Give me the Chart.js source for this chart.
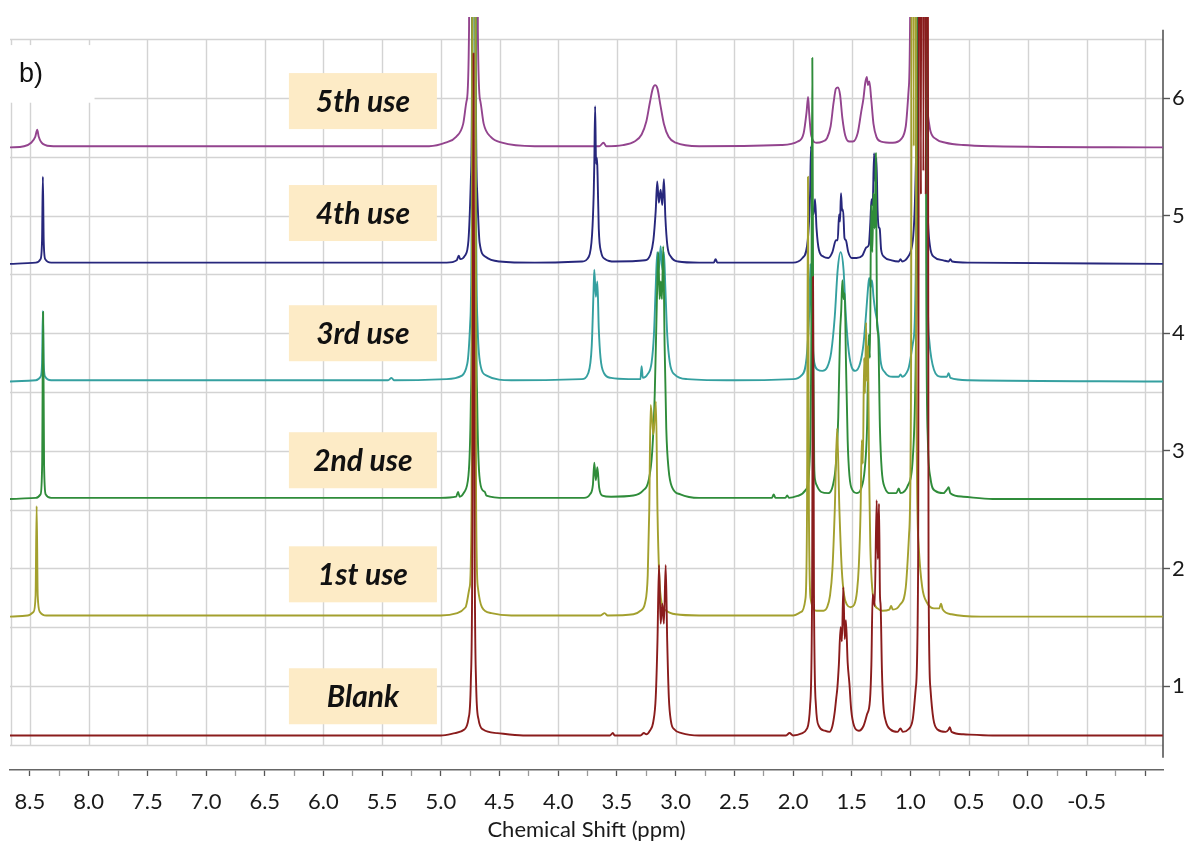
<!DOCTYPE html>
<html lang="en">
<head>
    <meta charset="UTF-8">
    <title>1H NMR - catalyst reuse</title>
    <script src="https://cdn.jsdelivr.net/npm/chart.js"></script>
    <style>
        body { margin: 0; background: #ffffff; }
        canvas { display: block; }
    </style>
</head>
<body>
<canvas id="nmr" width="1187" height="847"></canvas>
<script>
// Stacked 1H NMR spectra, one trace per reuse cycle.
// Each trace: [ppm, intensity above its own baseline]. Peaks taller than the frame are clipped.
const blankPts = [
    [8.67, 0], [5.00, 0], [4.88, 0.02], [4.80, 0.05], [4.765, 0.14], [4.745, 0.45], [4.732, 1.6], [4.722, 5.8], [4.712, 1.6], [4.70, 0.45], [4.68, 0.14], [4.64, 0.05], [4.52, 0.02], [4.30, 0],
    [3.56, 0], [3.535, 0.02], [3.52, 0], [3.30, 0], [3.27, 0.02], [3.25, 0.01],
    [3.22, 0.04], [3.19, 0.12], [3.17, 0.32], [3.155, 0.8], [3.142, 1.45], [3.128, 0.95], [3.114, 1.12], [3.10, 0.95], [3.085, 1.45], [3.072, 0.8], [3.058, 0.32], [3.04, 0.12], [3.01, 0.05], [2.95, 0.02], [2.80, 0],
    [2.06, 0], [2.03, 0.02], [2.00, 0],
    [1.92, 0.02], [1.88, 0.06], [1.855, 0.25], [1.838, 1.2], [1.83, 3.9], [1.822, 1.2], [1.805, 0.25], [1.78, 0.08], [1.73, 0.04], [1.69, 0.03],
    [1.665, 0.08], [1.645, 0.2], [1.632, 0.32], [1.623, 0.4], [1.61, 0.6], [1.595, 0.92], [1.584, 0.8], [1.572, 1.26], [1.56, 0.82], [1.55, 0.98], [1.535, 0.62], [1.52, 0.44], [1.505, 0.22], [1.48, 0.08], [1.44, 0.04],
    [1.40, 0.08], [1.37, 0.18], [1.345, 0.3], [1.333, 0.6], [1.322, 1.2], [1.305, 1.1], [1.288, 2.0], [1.278, 1.5], [1.268, 1.97], [1.26, 1.2], [1.254, 1.1], [1.243, 0.55], [1.232, 0.27], [1.21, 0.12], [1.17, 0.05],
    [1.11, 0.03], [1.085, 0.06], [1.065, 0.03], [1.02, 0.05], [0.98, 0.14], [0.955, 0.4], [0.935, 1.4], [0.922, 12], [0.911, 4.6], [0.90, 12], [0.89, 4.8], [0.88, 12], [0.87, 4.6], [0.858, 12], [0.846, 1.4], [0.83, 0.4], [0.805, 0.14], [0.77, 0.05],
    [0.70, 0.03], [0.675, 0.05], [0.665, 0.07], [0.65, 0.03], [0.55, 0.01], [0.30, 0], [-1.15, 0]
];

const use1Pts = [
    [8.67, 0], [8.52, 0.01], [8.47, 0.04], [8.452, 0.18], [8.443, 0.94], [8.434, 0.18], [8.415, 0.04], [8.36, 0.01], [5.00, 0.01],
    [4.86, 0.03], [4.79, 0.08], [4.755, 0.25], [4.738, 1.0], [4.725, 12], [4.712, 12], [4.70, 1.0], [4.685, 0.25], [4.65, 0.08], [4.57, 0.03], [4.40, 0.01],
    [3.64, 0.01], [3.605, 0.03], [3.58, 0.01],
    [3.36, 0.02], [3.30, 0.05], [3.26, 0.12], [3.238, 0.35], [3.225, 0.9], [3.213, 1.8], [3.19, 1.55], [3.168, 1.83], [3.155, 0.9], [3.14, 0.35], [3.12, 0.12], [3.08, 0.05], [3.00, 0.02], [2.80, 0.01],
    [2.00, 0.01], [1.93, 0.04], [1.895, 0.15], [1.881, 0.9], [1.873, 3.74], [1.865, 0.9], [1.85, 0.15], [1.80, 0.05], [1.74, 0.05],
    [1.71, 0.08], [1.685, 0.18], [1.665, 0.4], [1.645, 0.9], [1.625, 1.6], [1.605, 0.9], [1.585, 0.4], [1.565, 0.18], [1.54, 0.1], [1.51, 0.08],
    [1.48, 0.1], [1.455, 0.22], [1.44, 0.43], [1.425, 0.9], [1.415, 1.5], [1.405, 1.3], [1.395, 2.2], [1.387, 1.9], [1.378, 2.5], [1.37, 2.0], [1.362, 2.3], [1.352, 1.2], [1.342, 0.6], [1.33, 0.3], [1.31, 0.12], [1.28, 0.07], [1.24, 0.05],
    [1.18, 0.06], [1.165, 0.09], [1.15, 0.06], [1.09, 0.1], [1.04, 0.25], [1.012, 0.7], [0.995, 2], [0.985, 12], [0.972, 4], [0.962, 12], [0.95, 2], [0.93, 0.6], [0.90, 0.25], [0.86, 0.12], [0.80, 0.07],
    [0.755, 0.07], [0.74, 0.11], [0.725, 0.06], [0.65, 0.02], [0.40, 0], [-1.15, 0]
];

const use2Pts = [
    [8.67, 0], [8.45, 0.01], [8.41, 0.04], [8.396, 0.3], [8.388, 1.59], [8.38, 0.3], [8.366, 0.04], [8.32, 0.01], [5.00, 0.01],
    [4.87, 0.02], [4.853, 0.06], [4.84, 0.02], [4.80, 0.06], [4.765, 0.2], [4.745, 0.8], [4.732, 3], [4.724, 12], [4.712, 12], [4.704, 3], [4.69, 0.8], [4.672, 0.2], [4.64, 0.07], [4.625, 0.06], [4.612, 0.03], [4.45, 0.01],
    [3.78, 0.01], [3.73, 0.04], [3.705, 0.12], [3.693, 0.31], [3.68, 0.16], [3.667, 0.27], [3.652, 0.1], [3.625, 0.03], [3.55, 0.02],
    [3.36, 0.03], [3.28, 0.07], [3.23, 0.16], [3.20, 0.4], [3.178, 0.9], [3.162, 1.6], [3.148, 2.1], [3.137, 1.7], [3.127, 1.85], [3.117, 1.7], [3.106, 2.15], [3.094, 1.3], [3.08, 0.6], [3.06, 0.25], [3.03, 0.1], [2.96, 0.04], [2.80, 0.01],
    [2.18, 0.01], [2.165, 0.04], [2.15, 0.01], [2.065, 0.01], [2.05, 0.03], [2.035, 0.01],
    [1.95, 0.03], [1.89, 0.08], [1.86, 0.3], [1.845, 1.3], [1.836, 3.75], [1.828, 1.3], [1.82, 0.3], [1.812, 0.16], [1.80, 0.12], [1.76, 0.06], [1.70, 0.05],
    [1.66, 0.12], [1.635, 0.3], [1.615, 0.7], [1.60, 1.4], [1.59, 1.6], [1.58, 1.86], [1.57, 1.7], [1.56, 1.75], [1.55, 1.2], [1.535, 0.5], [1.52, 0.2], [1.49, 0.07], [1.46, 0.05],
    [1.42, 0.09], [1.39, 0.25], [1.37, 0.6], [1.355, 1.4], [1.345, 1.2], [1.335, 2.5], [1.325, 2.1], [1.315, 2.6], [1.305, 2.3], [1.295, 2.94], [1.285, 1.5], [1.275, 1.4], [1.26, 0.6], [1.245, 0.25], [1.22, 0.1], [1.17, 0.05],
    [1.12, 0.05], [1.10, 0.09], [1.085, 0.05], [1.02, 0.12], [0.98, 0.35], [0.955, 1.2], [0.935, 4], [0.925, 12], [0.912, 4.5], [0.902, 12], [0.89, 4.5], [0.878, 12], [0.866, 2], [0.852, 0.5], [0.83, 0.18], [0.79, 0.07], [0.72, 0.05],
    [0.69, 0.08], [0.675, 0.1], [0.66, 0.05], [0.55, 0.02], [0.30, 0], [-1.15, 0]
];

const use3Pts = [
    [8.67, 0], [8.45, 0.01], [8.41, 0.04], [8.397, 0.15], [8.39, 0.6], [8.383, 0.15], [8.37, 0.04], [8.32, 0.01],
    [5.45, 0.01], [5.42, 0.03], [5.40, 0.01], [4.95, 0.02], [4.82, 0.05], [4.775, 0.15], [4.75, 0.5], [4.735, 2], [4.725, 12], [4.712, 12], [4.702, 2], [4.688, 0.5], [4.665, 0.15], [4.61, 0.05], [4.40, 0.01],
    [3.80, 0.02], [3.745, 0.07], [3.715, 0.3], [3.70, 0.75], [3.693, 0.95], [3.68, 0.72], [3.667, 0.85], [3.655, 0.45], [3.64, 0.2], [3.61, 0.07], [3.55, 0.03], [3.40, 0.02],
    [3.30, 0.02], [3.29, 0.13], [3.28, 0.03],
    [3.24, 0.06], [3.205, 0.16], [3.185, 0.4], [3.17, 0.8], [3.157, 1.1], [3.143, 0.95], [3.128, 1.15], [3.114, 0.95], [3.10, 1.1], [3.088, 0.8], [3.072, 0.4], [3.05, 0.16], [3.01, 0.06], [2.90, 0.02], [2.50, 0.01],
    [2.00, 0.02], [1.93, 0.05], [1.885, 0.2], [1.862, 0.6], [1.852, 1.0], [1.843, 0.6], [1.825, 0.2], [1.79, 0.1], [1.75, 0.09],
    [1.71, 0.12], [1.675, 0.25], [1.645, 0.55], [1.62, 0.95], [1.595, 1.1], [1.57, 0.95], [1.55, 0.55], [1.525, 0.25], [1.50, 0.12], [1.47, 0.09],
    [1.43, 0.15], [1.40, 0.32], [1.38, 0.55], [1.365, 0.75], [1.352, 0.88], [1.34, 0.8], [1.328, 0.86], [1.315, 0.72], [1.30, 0.6], [1.285, 0.52], [1.27, 0.38], [1.255, 0.18], [1.22, 0.08], [1.15, 0.04],
    [1.10, 0.04], [1.085, 0.06], [1.07, 0.04], [1.02, 0.1], [0.975, 0.35], [0.95, 1.4], [0.935, 12], [0.92, 5], [0.905, 12], [0.89, 5], [0.875, 12], [0.86, 1.4], [0.84, 0.35], [0.80, 0.1], [0.74, 0.04],
    [0.69, 0.04], [0.675, 0.07], [0.66, 0.03], [0.50, 0.01], [-1.15, 0]
];

const use4Pts = [
    [8.67, 0], [8.45, 0.01], [8.41, 0.04], [8.397, 0.2], [8.39, 0.74], [8.383, 0.2], [8.37, 0.04], [8.32, 0.01], [4.95, 0.01],
    [4.865, 0.03], [4.848, 0.07], [4.835, 0.04], [4.795, 0.07], [4.765, 0.2], [4.745, 0.7], [4.733, 2], [4.724, 12], [4.712, 12], [4.704, 2], [4.69, 0.6], [4.67, 0.18], [4.62, 0.06], [4.50, 0.02], [4.20, 0.01],
    [3.80, 0.02], [3.74, 0.06], [3.712, 0.25], [3.698, 0.6], [3.693, 0.85], [3.686, 1.34], [3.678, 0.85], [3.67, 0.9], [3.665, 0.75], [3.655, 0.3], [3.635, 0.1], [3.60, 0.04], [3.52, 0.02],
    [3.26, 0.03], [3.215, 0.08], [3.19, 0.2], [3.17, 0.45], [3.157, 0.7], [3.143, 0.52], [3.128, 0.63], [3.114, 0.5], [3.10, 0.72], [3.088, 0.4], [3.07, 0.15], [3.04, 0.06], [2.98, 0.02], [2.80, 0.01],
    [2.675, 0.01], [2.66, 0.04], [2.645, 0.01],
    [2.00, 0.01], [1.92, 0.05], [1.875, 0.2], [1.855, 0.6], [1.847, 1.0], [1.838, 0.5], [1.825, 0.42], [1.813, 0.55], [1.80, 0.3], [1.78, 0.12], [1.74, 0.06],
    [1.70, 0.05], [1.665, 0.1], [1.635, 0.2], [1.62, 0.2], [1.608, 0.42], [1.60, 0.36], [1.592, 0.6], [1.582, 0.45], [1.574, 0.46], [1.562, 0.22], [1.55, 0.2], [1.53, 0.1], [1.50, 0.05], [1.46, 0.05],
    [1.41, 0.07], [1.375, 0.14], [1.355, 0.16], [1.342, 0.35], [1.332, 0.55], [1.322, 0.5], [1.31, 0.94], [1.30, 0.7], [1.29, 0.9], [1.28, 0.45], [1.27, 0.31], [1.262, 0.3], [1.25, 0.12], [1.225, 0.06], [1.16, 0.03],
    [1.10, 0.02], [1.085, 0.04], [1.07, 0.02], [1.02, 0.06], [0.98, 0.2], [0.955, 0.8], [0.94, 3], [0.932, 12], [0.918, 5], [0.905, 12], [0.89, 5], [0.878, 12], [0.868, 2], [0.855, 0.5], [0.835, 0.16], [0.80, 0.06], [0.72, 0.03],
    [0.675, 0.02], [0.66, 0.04], [0.645, 0.02], [0.50, 0.01], [-1.15, 0]
];

const use5Pts = [
    [8.67, 0], [8.55, 0.01], [8.49, 0.04], [8.455, 0.09], [8.438, 0.15], [8.425, 0.09], [8.39, 0.03], [8.30, 0.01], [5.10, 0.01],
    [4.96, 0.04], [4.87, 0.09], [4.81, 0.2], [4.78, 0.4], [4.76, 1.0], [4.745, 12], [4.70, 12], [4.685, 1.0], [4.665, 0.4], [4.635, 0.2], [4.575, 0.09], [4.48, 0.04], [4.20, 0.01],
    [3.65, 0.01], [3.615, 0.04], [3.59, 0.01],
    [3.45, 0.02], [3.35, 0.05], [3.29, 0.11], [3.25, 0.22], [3.22, 0.38], [3.195, 0.5], [3.175, 0.53], [3.155, 0.5], [3.13, 0.36], [3.10, 0.2], [3.06, 0.09], [3.00, 0.04], [2.80, 0.01],
    [2.10, 0.02], [1.96, 0.05], [1.91, 0.12], [1.885, 0.3], [1.872, 0.43], [1.862, 0.28], [1.845, 0.1], [1.80, 0.04], [1.75, 0.05],
    [1.71, 0.08], [1.68, 0.18], [1.655, 0.38], [1.635, 0.5], [1.618, 0.51], [1.60, 0.45], [1.58, 0.25], [1.555, 0.1], [1.52, 0.05], [1.49, 0.05],
    [1.45, 0.12], [1.42, 0.3], [1.40, 0.42], [1.385, 0.55], [1.372, 0.6], [1.362, 0.53], [1.35, 0.56], [1.335, 0.42], [1.315, 0.2], [1.29, 0.09], [1.25, 0.05], [1.15, 0.04],
    [1.08, 0.07], [1.04, 0.18], [1.015, 0.5], [1.00, 1.6], [0.99, 12], [0.88, 12], [0.87, 1.0], [0.855, 0.3], [0.83, 0.14], [0.78, 0.07], [0.70, 0.04], [0.55, 0.02], [0.30, 0.01], [-1.15, 0]
];

// vertical offset of each trace (right-hand scale units)
const traceNames   = ['Blank', '1st use', '2nd use', '3rd use', '4th use', '5th use'];
const traceOffsets = [0.58, 1.59, 2.59, 3.59, 4.59, 5.58];
const traceColors  = ['#8a1c1c', '#a3a02e', '#2f8c3a', '#35a0a0', '#27277c', '#93448e'];
const tracePoints  = [blankPts, use1Pts, use2Pts, use3Pts, use4Pts, use5Pts];

// label boxes: [ppm, right-scale value] of the box centre
const labelAnchors = [[5.664, 0.913], [5.664, 1.95], [5.664, 2.92], [5.664, 4.0], [5.664, 5.022], [5.664, 5.974]];

// background grid
const gridPpm   = [8.5, 8.0, 7.5, 7.0, 6.5, 6.0, 5.5, 5.0, 4.5, 4.0, 3.5, 3.0, 2.5, 2.0, 1.5, 1.0, 0.5, 0.0, -0.5, -1.0];
const gridUnits = [0.5, 1.0, 1.5, 2.0, 2.5, 3.0, 3.5, 4.0, 4.5, 5.0, 5.5, 6.0, 6.5];

const isHalf = v => Math.abs(v * 2 - Math.round(v * 2)) < 1e-6;

const datasets = tracePoints.map((pts, i) => ({
    label: traceNames[i],
    data: pts.map(([x, y]) => ({ x: x, y: y + traceOffsets[i] })),
    borderColor: traceColors[i],
    borderWidth: 1.9,
    borderJoinStyle: 'round',
    pointRadius: 0,
    fill: false,
    cubicInterpolationMode: 'monotone'
}));

const spectrumFrame = {
    id: 'spectrumFrame',
    beforeDatasetsDraw(chart) {
        const { ctx, chartArea, scales: { x, y } } = chart;
        const top = y.getPixelForValue(6.5);
        const bottom = y.getPixelForValue(0.5);
        ctx.save();
        ctx.strokeStyle = '#d3d3d3';
        ctx.lineWidth = 1.4;
        ctx.beginPath();
        gridPpm.forEach(v => {
            const px = Math.round(x.getPixelForValue(v)) + 0.5;
            ctx.moveTo(px, top); ctx.lineTo(px, bottom);
        });
        ctx.moveTo(chartArea.left + 1.5, top); ctx.lineTo(chartArea.left + 1.5, bottom);
        gridUnits.forEach(v => {
            const py = Math.round(y.getPixelForValue(v)) + 0.5;
            ctx.moveTo(chartArea.left, py); ctx.lineTo(chartArea.right, py);
        });
        ctx.stroke();

        // right-hand axis line
        ctx.strokeStyle = '#555';
        ctx.lineWidth = 1.6;
        ctx.beginPath();
        ctx.moveTo(chartArea.right, y.getPixelForValue(6.58));
        ctx.lineTo(chartArea.right, y.getPixelForValue(0.39));
        ctx.stroke();

        // panel tag on a white patch
        const tagL = chartArea.left - 5, tagR = x.getPixelForValue(7.95);
        const tagT = y.getPixelForValue(6.45), tagB = y.getPixelForValue(5.96);
        ctx.fillStyle = '#ffffff';
        ctx.fillRect(tagL, tagT, tagR - tagL, tagB - tagT);
        ctx.fillStyle = '#111';
        ctx.font = '27px "Liberation Sans", Arial, sans-serif';
        ctx.textBaseline = 'alphabetic';
        ctx.fillText('b)', 19, 82);
        ctx.restore();
    },
    afterDatasetsDraw(chart) {
        const { ctx, scales: { x, y } } = chart;
        ctx.save();
        ctx.font = 'italic bold 30px Lato, "Open Sans", sans-serif';
        ctx.textAlign = 'center';
        ctx.textBaseline = 'middle';
        labelAnchors.forEach(([ppm, v], i) => {
            const cx = x.getPixelForValue(ppm), cy = y.getPixelForValue(v);
            ctx.fillStyle = '#fdebc6';
            ctx.fillRect(cx - 74, cy - 28, 148, 56);
            ctx.fillStyle = '#111';
            ctx.fillText(traceNames[i], cx, cy + 1);
        });
        ctx.restore();
    }
};

Chart.defaults.font.family = 'Lato, "Open Sans", sans-serif';
Chart.defaults.color = '#222';

new Chart(document.getElementById('nmr'), {
    type: 'line',
    data: { datasets: datasets },
    options: {
        responsive: false,
        animation: false,
        events: [],
        layout: { padding: { left: 10, top: 17, right: 0, bottom: 0 } },
        plugins: { legend: { display: false }, tooltip: { enabled: false } },
        scales: {
            x: {
                type: 'linear',
                reverse: true,
                min: -1.151,
                max: 8.67,
                afterFit(scale) { scale.height = 77; },
                border: { display: true, color: '#666', width: 1.6 },
                grid: {
                    drawOnChartArea: false,
                    tickLength: 6,
                    tickWidth: 1.3,
                    tickColor: ctx => isHalf(ctx.tick.value) ? '#555' : '#999'
                },
                ticks: {
                    stepSize: 0.25,
                    autoSkip: false,
                    maxRotation: 0,
                    includeBounds: false,
                    padding: 13,
                    font: { size: 22 },
                    color: '#1a1a1a',
                    callback: v => (isHalf(v) && v > -0.9) ? v.toFixed(1) : ''
                },
                title: {
                    display: true,
                    text: 'Chemical Shift (ppm)',
                    font: { size: 22 },
                    color: '#1a1a1a',
                    padding: { top: 0, bottom: 4 }
                }
            },
            y: {
                type: 'linear',
                position: 'right',
                min: 0.286,
                max: 6.689,
                afterFit(scale) { scale.width = 24; },
                border: { display: false },
                grid: { drawOnChartArea: false, tickLength: 7, tickColor: '#555', tickWidth: 1.4 },
                ticks: {
                    stepSize: 1,
                    includeBounds: false,
                    padding: 2,
                    font: { size: 22 },
                    color: '#1a1a1a'
                }
            }
        }
    },
    plugins: [spectrumFrame]
});
</script>
</body>
</html>
